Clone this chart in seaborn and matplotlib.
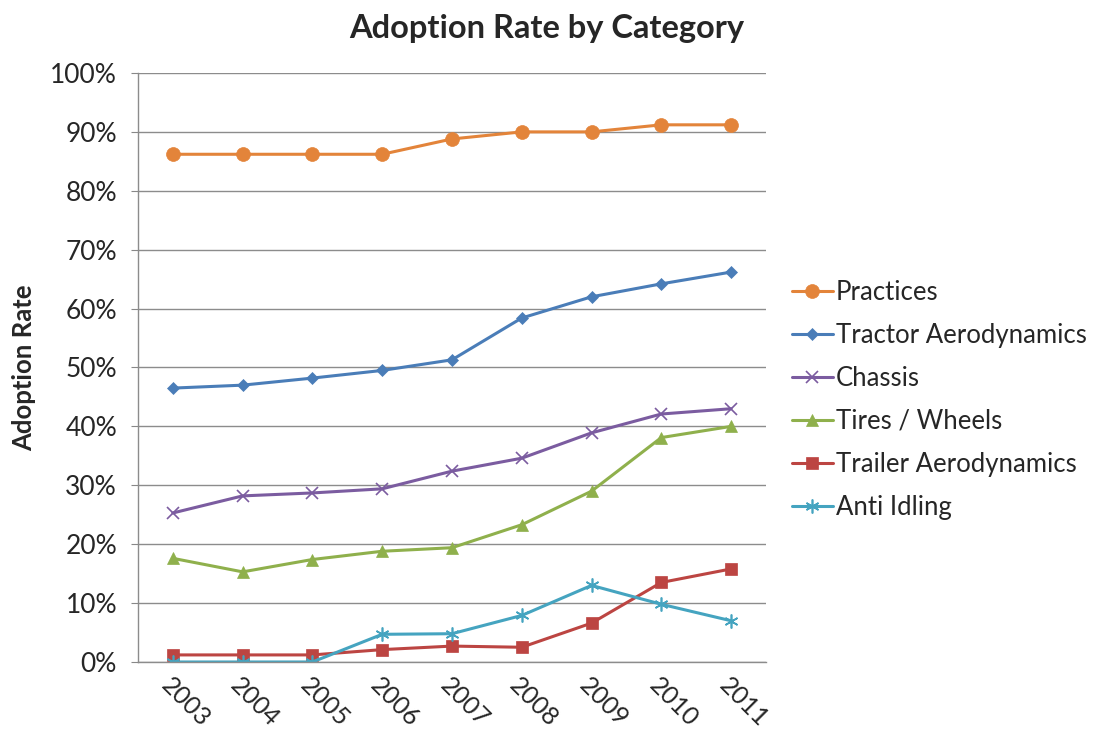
import numpy as np
import pandas as pd
import matplotlib
matplotlib.use("Agg")
import matplotlib.pyplot as plt
import seaborn as sns
from matplotlib.ticker import PercentFormatter

years = [2003, 2004, 2005, 2006, 2007, 2008, 2009, 2010, 2011]
practices = [86.2, 86.2, 86.2, 86.2, 88.8, 90.0, 90.0, 91.2, 91.2]
tractor_aero = [46.5, 47.0, 48.2, 49.5, 51.3, 58.4, 62.0, 64.2, 66.2]
chassis = [25.3, 28.2, 28.7, 29.4, 32.4, 34.6, 38.9, 42.1, 43.0]
tires_wheels = [17.6, 15.3, 17.4, 18.8, 19.4, 23.3, 29.0, 38.1, 40.0]
trailer_aero = [1.2, 1.2, 1.2, 2.1, 2.7, 2.5, 6.6, 13.5, 15.8]
anti_idling = [0.0, 0.0, 0.0, 4.7, 4.8, 7.9, 13.0, 9.8, 7.0]

series_names = ["Practices", "Tractor Aerodynamics", "Chassis",
                "Tires / Wheels", "Trailer Aerodynamics", "Anti Idling"]
series_values = [practices, tractor_aero, chassis, tires_wheels, trailer_aero, anti_idling]
colors = ["#E3843A", "#4A7DB8", "#7B5CA0", "#8FB04C", "#BC4542", "#45A4C0"]
markers = ["o", "D", "x", "^", "s", (6, 2, 0)]
msizes = [10, 6, 9, 9, 9, 10]

sns.set_style("white")
plt.rcParams["font.family"] = ["Lato", "DejaVu Sans"]

fig = plt.figure(figsize=(11.01, 7.38), dpi=100)
ax = fig.add_axes([0.1253, 0.103, 0.5704, 0.7981])

for name, vals, c, m, ms in zip(series_names, series_values, colors, markers, msizes):
    df = pd.DataFrame({"year": years, "rate": vals})
    sns.lineplot(data=df, x="year", y="rate", ax=ax, color=c, marker=m,
                 markersize=ms, linewidth=2.2, label=name,
                 markeredgecolor=c, markeredgewidth=1.2 if m in ("x", (6, 2, 0)) else 0.5)

ax.set_xlim(2002.5, 2011.5)
ax.set_ylim(0, 100)
ax.set_yticks(np.arange(0, 101, 10))
ax.yaxis.set_major_formatter(PercentFormatter(decimals=0))
ax.set_xticks(years)
ax.set_xticklabels([str(y) for y in years], rotation=-45, ha="left", va="top",
                   rotation_mode="anchor", fontsize=18)
ax.tick_params(axis="y", labelsize=19, length=5, color="#888888", direction="out",
               left=True, pad=10)
ax.tick_params(axis="x", length=0, pad=8)
ax.grid(axis="y", color="#8C8C8C", linewidth=1)
ax.grid(axis="x", visible=False)
for s in ["top", "right"]:
    ax.spines[s].set_visible(False)
for s in ["left", "bottom"]:
    ax.spines[s].set_color("#8C8C8C")
    ax.spines[s].set_linewidth(1)

ax.set_xlabel("")
ax.set_ylabel("Adoption Rate", fontsize=18.5, fontweight="bold", labelpad=10)
fig.text(0.497, 0.962, "Adoption Rate by Category", fontsize=23.5, fontweight="bold",
         ha="center", va="center")

leg = ax.legend(loc="center left", bbox_to_anchor=(1.025, 0.445), frameon=False,
                fontsize=18.5, handlelength=1.6, handletextpad=0.1, labelspacing=0.7,
                borderaxespad=0)

fig.savefig("out.png", dpi=100)
